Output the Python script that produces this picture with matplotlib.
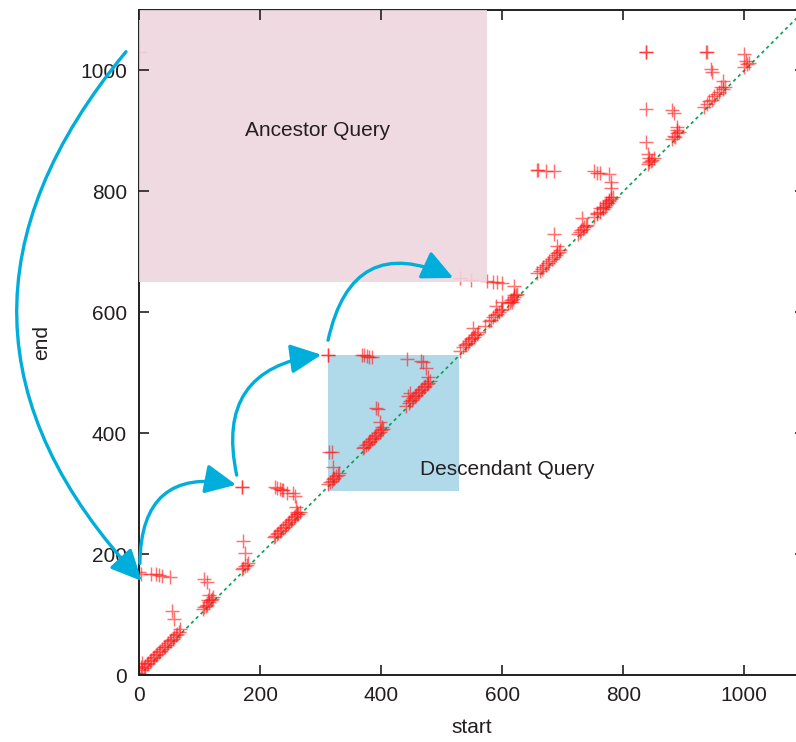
import matplotlib
matplotlib.use("Agg")
import matplotlib.pyplot as plt
from matplotlib.patches import Rectangle

plt.rcParams['font.family'] = ['Liberation Sans', 'DejaVu Sans']

# (start, end) pairs
start = [
    0, 2, 5, 5, 8, 10, 12, 15, 18, 20, 22, 25, 28, 30, 33, 35, 38, 40, 42, 45, 48, 50, 52, 55, 58, 60, 62, 65, 68, 54, 58,
    0, 2, 20, 28, 32, 38, 50,
    105, 107, 110, 112, 115, 118, 120, 122, 107, 112, 116, 114,
    170, 172, 175, 178, 180, 172, 175, 170, 170,
    224, 228, 233, 236, 238, 244, 254, 257, 259, 260,
    222, 225, 228, 230, 233, 235, 238, 240, 243, 245, 248, 250, 252, 255, 258, 260, 262, 265,
    312, 315, 318, 320, 322, 325, 328, 330, 313, 318, 320,
    312, 312, 368, 372, 376, 380, 385, 442, 465, 469, 474, 477,
    370, 372, 375, 378, 380, 382, 385, 388, 390, 392, 395, 398, 400, 402, 391, 394, 398, 401,
    440, 445, 448, 450, 452, 455, 458, 460, 462, 465, 468, 470, 472, 475, 478, 480, 447, 444,
    530, 548, 574, 584, 591, 599, 619,
    530, 535, 538, 540, 543, 545, 548, 550, 553, 555, 558, 560, 551,
    572, 578, 582, 585, 588, 592, 595, 598, 600, 599, 590,
    610, 612, 615, 618, 620, 622, 625, 616, 620,
    658, 662, 665, 668, 672, 675, 678, 682, 685, 688, 690, 693, 695, 690, 686,
    657, 659, 673, 685,
    725, 728, 730, 733, 735, 738, 740, 731,
    752, 756, 761, 766, 770, 772, 775, 777, 780, 783, 756, 761, 766, 772, 777, 780, 779, 780,
    752, 757, 761, 777,
    838, 838, 838, 838, 841, 843, 840, 843, 845, 848, 850,
    880, 884, 889, 881, 884, 888, 889, 886, 892,
    936, 939, 945, 947, 964, 962, 934, 938, 942, 946, 950, 955, 959, 964, 968,
    1000, 1003, 1000, 1005, 1008,
    0,
]
end = [
    3, 13, 20, 8, 12, 15, 18, 20, 24, 26, 28, 30, 33, 36, 38, 40, 44, 46, 47, 50, 53, 56, 58, 60, 64, 66, 68, 72, 76, 106, 93,
    170, 168, 168, 167, 166, 165, 163,
    110, 113, 115, 117, 121, 124, 126, 129, 160, 154, 132, 124,
    175, 178, 180, 183, 186, 222, 202, 311, 311,
    311, 310, 308, 307, 306, 302, 301, 296, 278, 270,
    228, 231, 233, 236, 238, 241, 243, 246, 249, 250, 253, 256, 258, 261, 263, 266, 267, 270,
    316, 319, 322, 324, 327, 329, 332, 334, 370, 369, 344,
    530, 530, 530, 529, 528, 527, 526, 523, 520, 518, 508, 494,
    376, 378, 381, 383, 386, 388, 390, 393, 396, 398, 400, 403, 405, 407, 442, 441, 419, 411,
    446, 450, 453, 456, 458, 461, 463, 466, 468, 471, 473, 476, 478, 481, 483, 486, 467, 462,
    657, 654, 652, 651, 650, 649, 644,
    537, 543, 546, 548, 550, 553, 556, 558, 560, 562, 565, 567, 574,
    578, 585, 588, 592, 595, 598, 601, 604, 606, 618, 610,
    615, 618, 620, 622, 625, 628, 630, 617, 629,
    665, 668, 672, 675, 678, 682, 685, 688, 692, 695, 698, 700, 703, 709, 730,
    836, 836, 834, 833,
    730, 733, 736, 738, 741, 743, 745, 756,
    757, 762, 766, 771, 775, 778, 781, 784, 788, 790, 765, 773, 775, 781, 786, 791, 806, 816,
    833, 831, 831, 829,
    1031, 1031, 937, 881, 862, 855, 845, 848, 850, 852, 855,
    886, 891, 897, 935, 930, 907, 902, 890, 898,
    1030, 1030, 1002, 998, 982, 972, 939, 944, 949, 952, 957, 961, 965, 970, 973,
    1028, 1015, 1005, 1010, 1013,
    1031,
]

x_ticks = [0, 200, 400, 600, 800, 1000]
y_ticks = [0, 200, 400, 600, 800, 1000]
axis_max = 1100

ancestor_box = (0, 651, 575, 449)       # x, y, width, height
descendant_box = (312, 305, 217, 224)

# arrows: (start point, end point, curvature)
arrows = [
    ((-22, 1031), (4, 156), 0.44),
    ((1, 185), (160, 315), -0.6),
    ((161, 331), (301, 530), -0.54),
    ((312, 554), (519, 657), -0.62),
]

text_col = '#231f20'
fig = plt.figure(figsize=(7.96, 7.42), dpi=100)
ax = fig.add_axes([139.3 / 796, (742 - 675.3) / 742, 665.5 / 796, 665.3 / 742])
ax.set_xlim(0, axis_max)
ax.set_ylim(0, axis_max)

ax.add_patch(Rectangle(descendant_box[:2], descendant_box[2], descendant_box[3],
                       facecolor='#b0daea', edgecolor='none', zorder=1))
ax.add_patch(Rectangle(ancestor_box[:2], ancestor_box[2], ancestor_box[3],
                       facecolor='#edd5de', edgecolor='none', alpha=0.88, zorder=5, clip_on=False))

ax.plot([0, axis_max], [0, axis_max], color='#00a651', lw=1.2, linestyle=(0, (2, 2)), zorder=2)
ax.plot(start, end, linestyle='none', marker='+', markersize=9.5, markeredgewidth=1.05,
        color='#ff1a1a', alpha=0.62, zorder=3)

ax.text(294, 900, 'Ancestor Query', fontsize=15, color=text_col, ha='center', va='center', zorder=6)
ax.text(609, 341, 'Descendant Query', fontsize=15, color=text_col, ha='center', va='center', zorder=6)

for (p0, p1, rad) in arrows:
    ax.annotate('', xy=p1, xytext=p0, annotation_clip=False, zorder=7,
                arrowprops=dict(arrowstyle='-|>,head_length=1.05,head_width=0.5',
                                connectionstyle=f'arc3,rad={rad}', color='#00aedb',
                                lw=2.4, shrinkA=0, shrinkB=0, mutation_scale=18,
                                clip_on=False))

ax.set_xticks(x_ticks)
ax.set_yticks(y_ticks)
ax.tick_params(direction='in', length=7, width=1.2, colors=text_col, labelsize=15,
               top=True, right=True, pad=9)
ax.tick_params(axis='x', pad=8)
ax.xaxis.set_zorder(6)
ax.yaxis.set_zorder(6)
for s in ax.spines.values():
    s.set_color(text_col)
    s.set_linewidth(1.4)
    s.set_zorder(4)

ax.set_xlabel('start', fontsize=15, color=text_col)
ax.set_ylabel('end', fontsize=15, color=text_col)
ax.xaxis.set_label_coords(0.5, -0.064)
ax.yaxis.set_label_coords(-0.132, 0.5)

fig.savefig('out.png', dpi=100)
